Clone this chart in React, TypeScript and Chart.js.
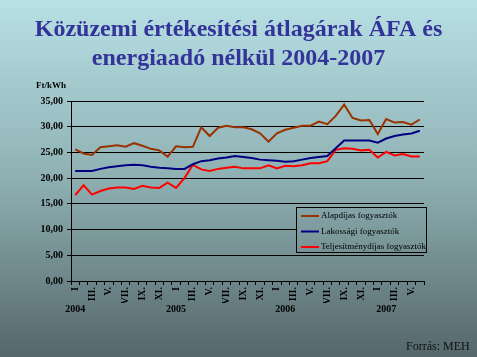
import React, { useEffect, useRef } from 'react';
import { Chart, registerables } from 'chart.js';

Chart.register(...registerables);

const titleLines = ['Közüzemi értékesítési átlagárak ÁFA és', 'energiaadó nélkül 2004-2007'];
const unitLabel = 'Ft/kWh';
const sourceLabel = 'Forrás: MEH';

const monthTicks = ['I', '', 'III.', '', 'V.', '', 'VII.', '', 'IX.', '', 'XI.', ''];
const years = ['2004', '2005', '2006', '2007'];
const yearTickIndex = [0, 12, 25, 37];
const monthCount = 42;

const seriesNames = ['Alapdíjas fogyasztók', 'Lakossági fogyasztók', 'Teljesítménydíjas fogyasztók'];
const seriesColors = ['#993300', '#000080', '#ff0000'];

const alapdijas = [
  25.6, 24.8, 24.5, 26.0, 26.2, 26.4, 26.1, 26.8, 26.3, 25.7, 25.4, 24.2,
  26.2, 26.0, 26.1, 29.9, 28.2, 29.8, 30.2, 29.9, 29.9, 29.5, 28.7, 27.1,
  28.7, 29.4, 29.8, 30.2, 30.2, 31.0, 30.5, 32.1, 34.3, 31.7, 31.2, 31.3,
  28.6, 31.5, 30.8, 30.9, 30.4, 31.4,
];
const lakossagi = [
  21.4, 21.4, 21.4, 21.8, 22.1, 22.3, 22.5, 22.6, 22.5, 22.2, 22.0, 21.9,
  21.8, 21.8, 22.7, 23.3, 23.5, 23.8, 24.0, 24.3, 24.1, 23.9, 23.6, 23.5,
  23.4, 23.2, 23.3, 23.6, 23.9, 24.1, 24.3, 25.8, 27.3, 27.3, 27.3, 27.3,
  26.9, 27.7, 28.2, 28.5, 28.7, 29.2,
];
const teljesitmenydijas = [
  16.7, 18.6, 16.8, 17.5, 18.0, 18.2, 18.2, 17.9, 18.5, 18.2, 18.1, 19.1,
  18.1, 20.0, 22.6, 21.7, 21.4, 21.8, 22.0, 22.2, 21.9, 21.9, 21.9, 22.5,
  21.9, 22.4, 22.3, 22.5, 22.9, 22.9, 23.3, 25.5, 25.8, 25.7, 25.4, 25.5,
  24.0, 25.1, 24.4, 24.7, 24.2, 24.2,
];

const yTickValues = [0, 5, 10, 15, 20, 25, 30, 35];

const SERIF = "'Liberation Serif', 'Times New Roman', serif";

function makeGradient(ctx: CanvasRenderingContext2D, height: number) {
  const g = ctx.createLinearGradient(0, 0, 0, height);
  g.addColorStop(0, '#b8e1e5');
  g.addColorStop(0.5, '#8eb0b3');
  g.addColorStop(1, '#55676a');
  return g;
}

const decorPlugin = {
  id: 'decor',
  beforeDraw(chart: any) {
    const { ctx, width, height } = chart;
    ctx.save();
    ctx.fillStyle = makeGradient(ctx, height);
    ctx.fillRect(0, 0, width, height);
    ctx.restore();
  },
  afterDraw(chart: any) {
    const { ctx, width, height, chartArea } = chart;
    ctx.save();
    // title
    ctx.fillStyle = '#333399';
    ctx.font = `bold 24px ${SERIF}`;
    ctx.textAlign = 'center';
    ctx.textBaseline = 'middle';
    ctx.fillText(titleLines[0], width / 2, 30);
    ctx.fillText(titleLines[1], width / 2, 59);

    // unit
    ctx.fillStyle = '#000';
    ctx.font = `bold 9px ${SERIF}`;
    ctx.textAlign = 'left';
    ctx.fillText(unitLabel, 36, 86);

    // source
    ctx.font = `12px ${SERIF}`;
    ctx.fillStyle = '#111';
    ctx.fillText(sourceLabel, 406, 347);

    // legend box
    const bx = chartArea.right - 128;
    const by = 207;
    const bw = 130;
    const bh = 45;
    ctx.fillStyle = makeGradient(ctx, height);
    ctx.fillRect(bx, by, bw, bh);
    ctx.strokeStyle = '#000';
    ctx.lineWidth = 1;
    ctx.strokeRect(bx + 0.5, by + 0.5, bw, bh);
    const rows = [216, 231.5, 247];
    chart.data.datasets.forEach((ds: any, i: number) => {
      const y = rows[i];
      ctx.strokeStyle = ds.borderColor;
      ctx.lineWidth = 2;
      ctx.beginPath();
      ctx.moveTo(bx + 5, y);
      ctx.lineTo(bx + 23, y);
      ctx.stroke();
      ctx.fillStyle = '#000';
      ctx.font = `9px ${SERIF}`;
      ctx.textAlign = 'left';
      ctx.textBaseline = 'middle';
      ctx.fillText(ds.label, bx + 25, y);
    });
    ctx.restore();
  },
};

export default function App() {
  const ref = useRef<HTMLCanvasElement>(null);

  useEffect(() => {
    if (!ref.current) return;
    const labels: string[] = [];
    for (let i = 0; i < monthCount; i++) labels.push(monthTicks[i % 12]);
    const yearAxis: string[] = new Array(monthCount).fill('');
    years.forEach((y, i) => { yearAxis[yearTickIndex[i]] = y; });

    const values = [alapdijas, lakossagi, teljesitmenydijas];

    const chart = new Chart(ref.current, {
      type: 'line',
      data: {
        labels,
        datasets: values.map((v, i) => ({
          label: seriesNames[i],
          data: v,
          borderColor: seriesColors[i],
          backgroundColor: seriesColors[i],
          borderWidth: 2,
          pointRadius: 0,
          tension: 0,
          fill: false,
        })),
      },
      options: {
        animation: false,
        responsive: false,
        events: [],
        layout: { padding: { top: 101, left: 0, right: 53, bottom: 40 } },
        plugins: {
          legend: { display: false },
          title: { display: false },
          tooltip: { enabled: false },
        },
        scales: {
          x: {
            type: 'category',
            offset: true,
            grid: { display: true, drawOnChartArea: false, drawTicks: true, tickLength: 4, color: '#000', offset: true },
            border: { display: true, color: '#000', width: 1 },
            ticks: {
              autoSkip: false,
              maxRotation: 90,
              minRotation: 90,
              padding: 2,
              color: '#000',
              font: { family: SERIF, size: 10, weight: 'bold' },
            },
            afterFit(scale: any) { scale.height = 22; },
          },
          x2: {
            type: 'category',
            labels: yearAxis,
            position: 'bottom',
            offset: true,
            weight: 1,
            grid: { display: false, drawTicks: false, tickLength: 0 },
            border: { display: false },
            ticks: {
              autoSkip: false,
              maxRotation: 0,
              minRotation: 0,
              padding: 0,
              color: '#000',
              font: { family: SERIF, size: 10, weight: 'bold' },
            },
            afterFit(scale: any) { scale.height = 14; },
          },
          y: {
            min: 0,
            max: 35,
            grid: { color: '#000', lineWidth: 1, drawTicks: true, tickLength: 4 },
            border: { display: true, color: '#000', width: 1 },
            afterBuildTicks(scale: any) { scale.ticks = yTickValues.map((v) => ({ value: v })); },
            ticks: {
              padding: 4,
              color: '#000',
              font: { family: SERIF, size: 10, weight: 'bold' },
              callback: (v: any) => Number(v).toFixed(2).replace('.', ','),
            },
            afterFit(scale: any) { scale.width = 71; },
          },
        },
      },
      plugins: [decorPlugin],
    });
    return () => chart.destroy();
  }, []);

  return (
    <div style={{ position: 'fixed', left: 0, top: 0, width: 477, height: 357 }}>
      <canvas ref={ref} width={477} height={357} />
    </div>
  );
}
